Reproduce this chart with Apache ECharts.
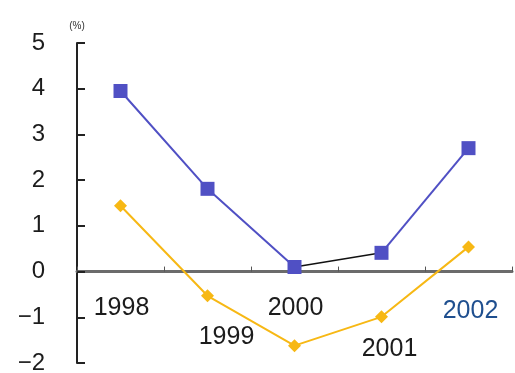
<!DOCTYPE html>
<html>
<head>
<meta charset="utf-8">
<script src="https://cdn.jsdelivr.net/npm/echarts@6/dist/echarts.min.js"></script>
<style>
  html, body { margin: 0; padding: 0; background: #fff; }
  #chart { width: 515px; height: 373px; }
</style>
</head>
<body>
<div id="chart"></div>
<script>
// Years on the category axis
const years = ['1998', '1999', '2000', '2001', '2002'];
// Upper series (square markers), %
const blueVals = [3.95, 1.81, 0.1, 0.41, 2.7];
// Lower series (diamond markers), %
const yellowVals = [1.44, -0.53, -1.62, -0.99, 0.54];
// Value-axis range and step
const yMin = -2, yMax = 5, yStep = 1;

// The 2000→2001 segment of the upper series is drawn in black
const blackFrom = 2, blackTo = 3;

// Staggered year labels under the zero line: [right, down, colour] in px
const yearLabelStyle = [
  [1, 37, '#1c1c1c'],
  [19, 66, '#1c1c1c'],
  [1, 37, '#1c1c1c'],
  [8, 78, '#1c1c1c'],
  [2, 40, '#1f4f8f']
];

const FONT = 'Liberation Sans';
const BLUE = '#5050c4';
const YELLOW = '#f7b814';

function pick(arr, from, to) {
  return arr.map(function (v, i) { return (i >= from && i <= to) ? v : '-'; });
}

// Year labels anchored at each category on the zero line
const yearLabelData = years.map(function (y, i) {
  const s = yearLabelStyle[i];
  return {
    value: [i, 0],
    name: y,
    label: { offset: [s[0], s[1]], color: s[2] }
  };
});

const chart = echarts.init(document.getElementById('chart'), null, { renderer: 'canvas' });
chart.setOption({
  animation: false,
  backgroundColor: '#fff',
  grid: { left: 77, right: 3, top: 43, bottom: 10, containLabel: false, outerBoundsMode: 'none' },
  xAxis: {
    type: 'category',
    data: years,
    boundaryGap: true,
    axisLine: { onZero: true, lineStyle: { color: '#6b6b6b', width: 3 } },
    axisTick: { show: true, inside: true, length: 5, interval: 0, lineStyle: { color: '#555', width: 1 } },
    axisLabel: { show: false },
    splitLine: { show: false }
  },
  yAxis: {
    type: 'value',
    min: yMin,
    max: yMax,
    interval: yStep,
    name: '(%)',
    nameLocation: 'end',
    nameGap: 12,
    nameTextStyle: { fontSize: 10, color: '#333', fontFamily: FONT, align: 'center' },
    axisLine: { show: true, lineStyle: { color: '#222', width: 2 } },
    axisTick: { show: true, inside: true, length: 8, lineStyle: { color: '#222', width: 2 } },
    axisLabel: {
      margin: 32,
      fontFamily: FONT,
      fontSize: 24,
      color: '#1c1c1c',
      formatter: function (v) { return v < 0 ? '\u2212' + Math.abs(v) : String(v); }
    },
    splitLine: { show: false }
  },
  series: [
    {
      type: 'line',
      data: pick(blueVals, blackFrom, blackTo),
      symbol: 'none',
      lineStyle: { color: '#111', width: 1.5 },
      z: 2
    },
    {
      type: 'line',
      data: pick(blueVals, 0, blackFrom),
      symbol: 'rect',
      symbolSize: 14,
      itemStyle: { color: BLUE },
      lineStyle: { color: BLUE, width: 2 },
      z: 3
    },
    {
      type: 'line',
      data: pick(blueVals, blackTo, years.length - 1),
      symbol: 'rect',
      symbolSize: 14,
      itemStyle: { color: BLUE },
      lineStyle: { color: BLUE, width: 2 },
      z: 3
    },
    {
      type: 'line',
      data: yellowVals,
      symbol: 'diamond',
      symbolSize: 13,
      itemStyle: { color: YELLOW },
      lineStyle: { color: YELLOW, width: 2 },
      z: 3
    },
    {
      type: 'scatter',
      data: yearLabelData,
      symbolSize: 0,
      silent: true,
      z: 4,
      itemStyle: { opacity: 1 },
      label: {
        show: true,
        position: 'inside',
        formatter: '{b}',
        fontFamily: FONT,
        fontSize: 25,
        opacity: 1
      }
    }
  ]
});
</script>
</body>
</html>
